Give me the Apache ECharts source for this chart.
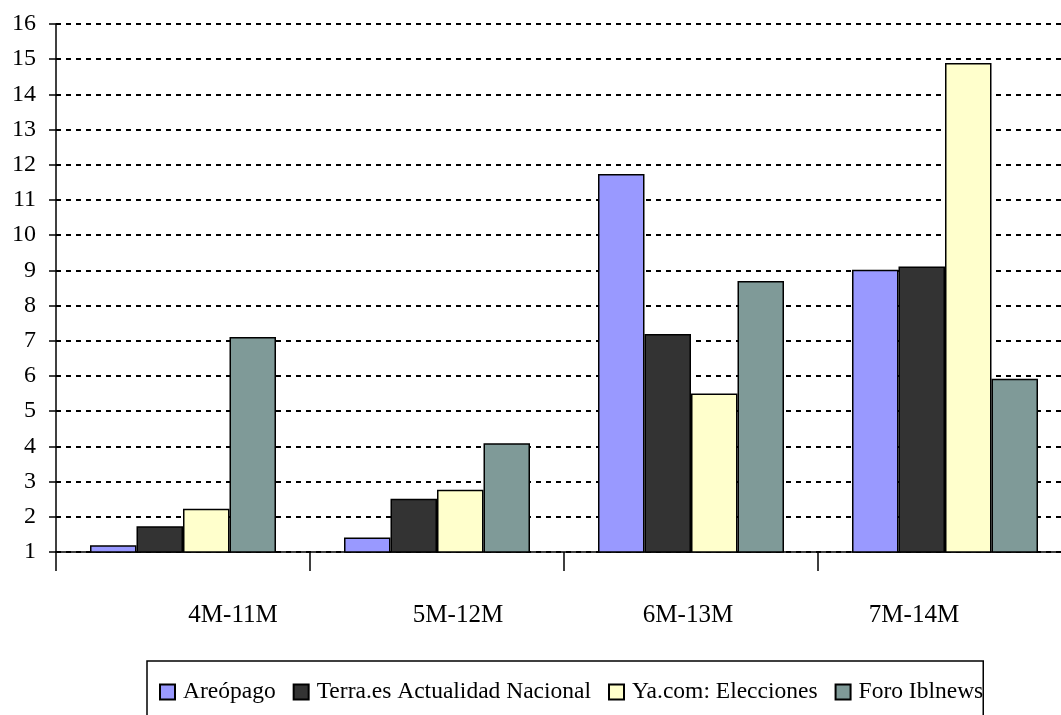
<!DOCTYPE html>
<html>
<head>
<meta charset="utf-8">
<script src="https://cdn.jsdelivr.net/npm/echarts@6/dist/echarts.min.js"></script>
<style>
  html, body { margin: 0; padding: 0; background: #fff; }
  #chart { width: 1061px; height: 715px; }
</style>
</head>
<body>
<div id="chart"></div>
<script>
  var categories = ['4M-11M', '5M-12M', '6M-13M', '7M-14M']
  var areopago = [1.19, 1.41, 11.74, 9.02]
  var terra = [1.73, 2.51, 7.19, 9.11]
  var yaCom = [2.23, 2.77, 5.5, 14.89]
  var foro = [7.11, 4.09, 8.7, 5.92]

  // label shifts (px) from the category centre, as in the original
  var labelOffsets = [50, 21, -3, -31]

  var font = 'Liberation Serif'

  function barSeries(name, data, color) {
    return {
      name: name,
      type: 'bar',
      data: data,
      barWidth: 46.5,
      barGap: 0,
      itemStyle: {
        color: color,
        borderColor: '#000',
        borderWidth: 1.5
      },
      animation: false
    }
  }

  var xData = categories.map(function (c, i) {
    var off = labelOffsets[i]
    return {
      value: c,
      textStyle: {
        padding: off >= 0 ? [0, 0, 0, off * 2] : [0, -off * 2, 0, 0]
      }
    }
  })

  var chart = echarts.init(document.getElementById('chart'))
  chart.setOption({
    backgroundColor: '#fff',
    textStyle: { fontFamily: font, color: '#000' },
    grid: {
      left: 56,
      width: 1016,
      top: 24,
      bottom: 163,
      containLabel: false,
      outerBoundsMode: 'none'
    },
    legend: {
      left: 147,
      top: 661,
      padding: [19, 0, 40, 12],
      borderColor: '#000',
      borderWidth: 1.5,
      itemWidth: 15,
      itemHeight: 15,
      itemGap: 17,
      icon: 'rect',
      textStyle: { fontFamily: font, fontSize: 23.5, color: '#000', padding: [0, 0, 0, 3] },
      data: ['Areópago', 'Terra.es Actualidad Nacional', 'Ya.com: Elecciones', 'Foro Iblnews']
    },
    xAxis: {
      type: 'category',
      data: xData,
      boundaryGap: true,
      axisLine: { lineStyle: { color: '#000', width: 1.5 } },
      axisTick: { show: true, length: 19, lineStyle: { color: '#000', width: 1.5 } },
      axisLabel: {
        fontFamily: font,
        fontSize: 25,
        color: '#000',
        margin: 51
      }
    },
    yAxis: {
      type: 'value',
      min: 1,
      max: 16,
      interval: 1,
      axisLine: { show: true, lineStyle: { color: '#000', width: 1.5 } },
      axisTick: { show: true, length: 7, lineStyle: { color: '#000', width: 1.5 } },
      axisLabel: { fontFamily: font, fontSize: 24, color: '#000', margin: 20 },
      splitLine: {
        show: true,
        lineStyle: { color: '#000', width: 2, type: [5, 5] }
      }
    },
    series: [
      barSeries('Areópago', areopago, '#9999FF'),
      barSeries('Terra.es Actualidad Nacional', terra, '#333333'),
      barSeries('Ya.com: Elecciones', yaCom, '#FFFFCC'),
      barSeries('Foro Iblnews', foro, '#7F9A98')
    ]
  })
</script>
</body>
</html>
